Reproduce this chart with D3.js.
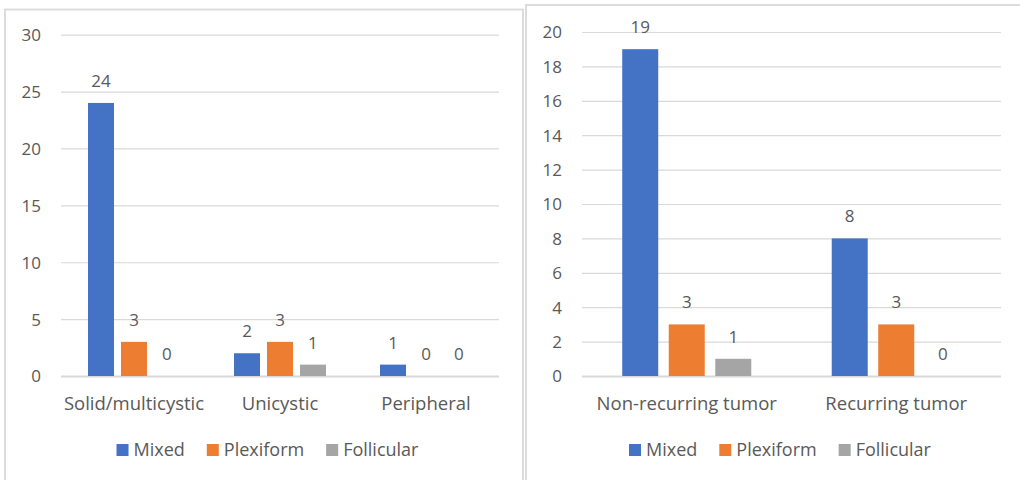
<!DOCTYPE html>
<html>
<head>
<meta charset="utf-8">
<script src="https://cdn.jsdelivr.net/npm/d3@7"></script>
<style>
  html, body { margin: 0; padding: 0; background: #ffffff; }
  svg { display: block; }
  text { font-family: "Open Sans", sans-serif; fill: #595959; }
</style>
</head>
<body>
<svg id="chart" width="1020" height="480"></svg>
<script>
// Series shared by both panels
const seriesNames = ["Mixed", "Plexiform", "Follicular"];
const seriesColors = ["#4472C4", "#ED7D31", "#A5A5A5"];

// Panel 1: tumour type
const typeCategories = ["Solid/multicystic", "Unicystic", "Peripheral"];
const typeMixed = [24, 2, 1];
const typePlexiform = [3, 3, 0];
const typeFollicular = [0, 1, 0];
const typeTicks = [0, 5, 10, 15, 20, 25, 30];

// Panel 2: recurrence
const outcomeCategories = ["Non-recurring tumor", "Recurring tumor"];
const outcomeMixed = [19, 8];
const outcomePlexiform = [3, 3];
const outcomeFollicular = [1, 0];
const outcomeTicks = [0, 2, 4, 6, 8, 10, 12, 14, 16, 18, 20];

const svg = d3.select("#chart");
const categorySize = 18.5;
const legendSize = 18;
const numberSize = 17;

function drawPanel(opts) {
  const g = svg.append("g");

  // chart frame
  g.append("rect")
    .attr("x", opts.frame[0]).attr("y", opts.frame[1])
    .attr("width", opts.frame[2]).attr("height", opts.frame[3])
    .attr("fill", "#ffffff")
    .attr("stroke", "#D9D9D9").attr("stroke-width", 1.8);

  const y = d3.scaleLinear()
    .domain([0, d3.max(opts.ticks)])
    .range([opts.plot.bottom, opts.plot.top]);

  const x = d3.scaleBand()
    .domain(opts.categories)
    .range([opts.plot.left, opts.plot.right])
    .paddingInner(0).paddingOuter(0);

  const groupWidth = x.bandwidth() * opts.groupFrac;
  const xs = d3.scaleBand()
    .domain(seriesNames)
    .range([-groupWidth / 2, groupWidth / 2])
    .paddingInner(opts.barGap);

  // gridlines + y labels
  const yAxis = d3.axisLeft(y)
    .tickValues(opts.ticks)
    .tickSize(-(opts.plot.right - opts.plot.left))
    .tickPadding(opts.plot.left - opts.labelRight)
    .tickFormat(d3.format("d"));

  const ax = g.append("g")
    .attr("transform", `translate(${opts.plot.left},0)`)
    .call(yAxis);
  ax.select(".domain").remove();
  ax.selectAll(".tick line")
    .attr("stroke", "#D9D9D9")
    .attr("stroke-width", d => d === 0 ? 1.8 : 1.2);
  ax.selectAll(".tick text")
    .attr("font-size", numberSize)
    .attr("font-family", "'Open Sans', sans-serif")
    .attr("fill", "#595959")
    .attr("dy", "0.35em");

  // bars
  const rows = [];
  opts.categories.forEach((c, i) => {
    opts.values.forEach((vals, s) => {
      rows.push({ cat: c, series: seriesNames[s], color: seriesColors[s], value: vals[i] });
    });
  });

  const bars = g.append("g");
  bars.selectAll("rect")
    .data(rows.filter(d => d.value > 0))
    .join("rect")
    .attr("x", d => x(d.cat) + x.bandwidth() / 2 + xs(d.series))
    .attr("y", d => y(d.value))
    .attr("width", xs.bandwidth())
    .attr("height", d => y(0) - y(d.value))
    .attr("fill", d => d.color);

  // value labels
  g.append("g").selectAll("text")
    .data(rows)
    .join("text")
    .attr("x", d => x(d.cat) + x.bandwidth() / 2 + xs(d.series) + xs.bandwidth() / 2)
    .attr("y", d => y(d.value) - 16)
    .attr("text-anchor", "middle")
    .attr("font-size", numberSize)
    .text(d => d.value);

  // category labels
  g.append("g").selectAll("text")
    .data(opts.categories)
    .join("text")
    .attr("x", d => x(d) + x.bandwidth() / 2)
    .attr("y", 410)
    .attr("text-anchor", "middle")
    .attr("font-size", categorySize)
    .text(d => d);

  // legend
  const legend = g.append("g");
  const items = legend.selectAll("g")
    .data(seriesNames)
    .join("g");
  items.append("rect")
    .attr("width", 12).attr("height", 12)
    .attr("y", 444)
    .attr("fill", (d, i) => seriesColors[i]);
  items.append("text")
    .attr("x", 17)
    .attr("y", 456)
    .attr("font-size", legendSize)
    .text(d => d);
  let cursor = 0;
  const itemGap = 22;
  items.each(function () {
    const w = 17 + d3.select(this).select("text").node().getComputedTextLength();
    d3.select(this).attr("data-x", cursor).attr("data-w", w);
    cursor += w + itemGap;
  });
  const total = cursor - itemGap;
  items.attr("transform", function () {
    return `translate(${opts.legendCenter - total / 2 + (+this.getAttribute("data-x"))},0)`;
  });
}

drawPanel({
  frame: [5, 9.5, 518, 490],
  plot: { left: 61, right: 499, top: 34.7, bottom: 376 },
  labelRight: 41,
  categories: typeCategories,
  values: [typeMixed, typePlexiform, typeFollicular],
  ticks: typeTicks,
  groupFrac: 0.63,
  barGap: 0.212,
  legendCenter: 267.5
});

drawPanel({
  frame: [526, 5, 520, 490],
  plot: { left: 582, right: 1001, top: 32, bottom: 376 },
  labelRight: 562,
  categories: outcomeCategories,
  values: [outcomeMixed, outcomePlexiform, outcomeFollicular],
  ticks: outcomeTicks,
  groupFrac: 0.616,
  barGap: 0.226,
  legendCenter: 780
});
</script>
</body>
</html>
